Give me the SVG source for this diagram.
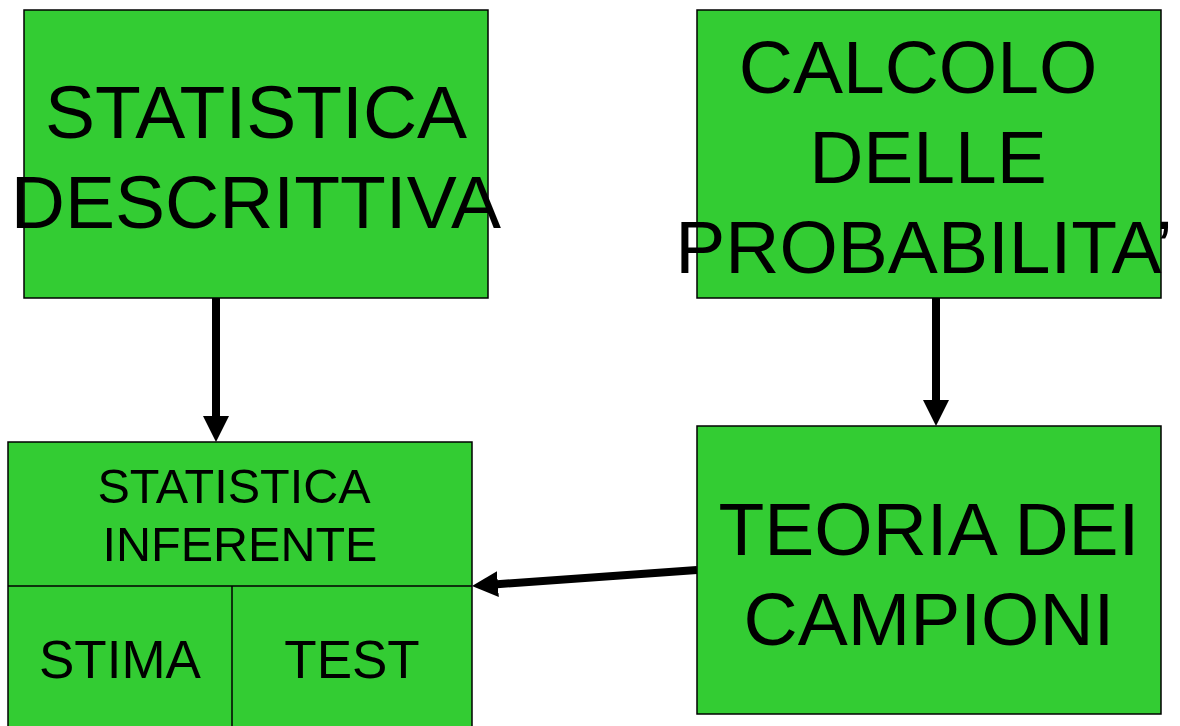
<svg xmlns="http://www.w3.org/2000/svg" width="1180" height="726" viewBox="0 0 1180 726">
<defs>
<style>
.box{fill:#33CC33;stroke:#000;stroke-width:1.5}
.t{font-family:"Liberation Sans",Arial,sans-serif;fill:#000;text-anchor:middle}
.big{font-size:75px}
.mid{font-size:48.5px}
.sub{font-size:53px}
.conn{stroke:#000;stroke-width:8;fill:none}
</style>
<marker id="ah" markerUnits="userSpaceOnUse" markerWidth="26" markerHeight="26" viewBox="0 0 26 26" refX="1" refY="13" orient="auto">
<path d="M0,0 L26,13 L0,26 Z" fill="#000"/>
</marker>
</defs>
<rect width="1180" height="726" fill="#fff"/>
<g id="connectors">
<line class="conn" x1="216" y1="298" x2="216" y2="417" marker-end="url(#ah)"/>
<line class="conn" x1="936" y1="298" x2="936" y2="401" marker-end="url(#ah)"/>
<line class="conn" x1="697" y1="570" x2="496.9" y2="584.2" marker-end="url(#ah)"/>
</g>
<g id="descrittiva">
<rect class="box" x="24" y="10" width="464" height="288"/>
<text class="t big" x="256" y="138">STATISTICA</text>
<text class="t big" x="256" y="228">DESCRITTIVA</text>
</g>
<g id="probabilita">
<rect class="box" x="697" y="10" width="464" height="288"/>
<text class="t big" x="918" y="93">CALCOLO</text>
<text class="t big" x="928" y="183">DELLE</text>
<text class="t big" x="924" y="273">PROBABILITA’</text>
</g>
<g id="campioni">
<rect class="box" x="697" y="426" width="464" height="288"/>
<text class="t big" x="929" y="555">TEORIA DEI</text>
<text class="t big" x="929" y="645">CAMPIONI</text>
</g>
<g id="inferente">
<rect class="box" x="8" y="442" width="464" height="300"/>
<line x1="8" y1="586" x2="472" y2="586" stroke="#000" stroke-width="1.5"/>
<line x1="232" y1="586" x2="232" y2="726" stroke="#000" stroke-width="1.5"/>
<text class="t mid" x="234" y="503">STATISTICA</text>
<text class="t mid" x="240" y="561">INFERENTE</text>
</g>
<g id="stima">
<text class="t sub" x="120" y="678">STIMA</text>
</g>
<g id="test">
<text class="t sub" x="352" y="678">TEST</text>
</g>
</svg>
